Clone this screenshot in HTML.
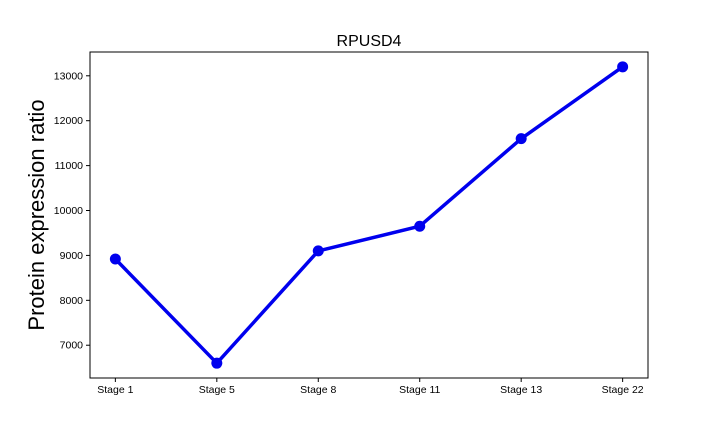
<!DOCTYPE html>
<html><head><meta charset="utf-8"><style>
body{margin:0;background:#fff;font-family:"Liberation Sans",sans-serif;}
</style></head><body>
<svg id="chart" width="720" height="432" xmlns="http://www.w3.org/2000/svg"></svg>
<script>
const categories=["Stage 1","Stage 5","Stage 8","Stage 11","Stage 13","Stage 22"];
const values=[8920,6600,9100,9650,11600,13200];
const yTicks=[7000,8000,9000,10000,11000,12000,13000];
const L=90,R=648,T=52,B=378;
const n=categories.length;
const minV=Math.min(...values),maxV=Math.max(...values);
const pad=(maxV-minV)*0.05;
const y0=minV-pad,y1=maxV+pad;
const xs=i=>L+(i+0.25)/(n-1+0.5)*(R-L);
const ys=v=>B-(v-y0)/(y1-y0)*(B-T);
const svg=document.getElementById('chart');
const NS="http://www.w3.org/2000/svg";
function mk(tag,attrs,parent){const e=document.createElementNS(NS,tag);for(const k in attrs)e.setAttribute(k,attrs[k]);(parent||svg).appendChild(e);return e;}
const frame=mk('rect',{x:L,y:T,width:R-L,height:B-T,fill:'none',stroke:'#000','stroke-width':1});


yTicks.forEach(v=>{const y=ys(v);
const t=mk('line',{x1:L-4,x2:L,y1:y,y2:y,stroke:'#000'});


const tx=mk('text',{x:L-7,y:y+3.5,'text-anchor':'end','font-size':10.5});tx.textContent=v;

});
categories.forEach((c,i)=>{const x=xs(i);
const t=mk('line',{x1:x,x2:x,y1:B,y2:B+4,stroke:'#000'});


const tx=mk('text',{x:x,y:B+15,'text-anchor':'middle','font-size':10.5});tx.textContent=c;

});
const line=mk('polyline',{points:values.map((v,i)=>xs(i)+','+ys(v)).join(' '),fill:'none',stroke:'#0000ee','stroke-width':3.5,'stroke-linejoin':'round'});


values.forEach((v,i)=>{const c=mk('circle',{cx:xs(i),cy:ys(v),r:5.5,fill:'#0000ee'});

});
const title=mk('text',{x:(L+R)/2,y:46,'text-anchor':'middle','font-size':16});title.textContent='RPUSD4';


const yc=(T+B)/2;
const yt=mk('text',{x:44,y:yc,'text-anchor':'middle','font-size':22,transform:`rotate(-90 44 ${yc})`});yt.textContent='Protein expression ratio';


</script>
</body></html>
